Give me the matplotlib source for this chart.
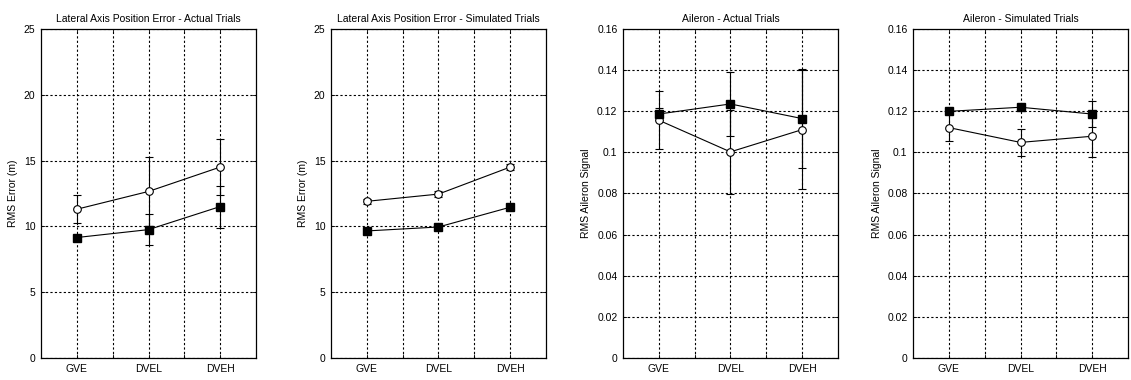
import numpy as np
import matplotlib.pyplot as plt
from matplotlib.ticker import FormatStrFormatter

plt.rcParams['font.family'] = ['Liberation Sans', 'DejaVu Sans']

conditions = ["GVE", "DVEL", "DVEH"]

titles = ["Lateral Axis Position Error - Actual Trials",
          "Lateral Axis Position Error - Simulated Trials",
          "Aileron - Actual Trials",
          "Aileron - Simulated Trials"]
ylabels = ["RMS Error (m)", "RMS Error (m)", "RMS Aileron Signal", "RMS Aileron Signal"]

# open circle series
circle_mean = [[11.3, 12.65, 14.5],
               [11.9, 12.45, 14.5],
               [0.1156, 0.1002, 0.111],
               [0.112, 0.1048, 0.1078]]
circle_err = [[1.05, 2.65, 2.1],
              [0.2, 0.2, 0.2],
              [0.014, 0.0205, 0.029],
              [0.0065, 0.0065, 0.0101]]

# filled square series
square_mean = [[9.15, 9.75, 11.5],
               [9.65, 9.95, 11.45],
               [0.1186, 0.1235, 0.1164],
               [0.1199, 0.1219, 0.1186]]
square_err = [[0.15, 1.15, 1.6],
              [0.15, 0.15, 0.15],
              [0.003, 0.0155, 0.024],
              [0.001, 0.001, 0.0065]]

ylims = [(0, 25), (0, 25), (0, 0.16), (0, 0.16)]
yticks = [np.arange(0, 26, 5), np.arange(0, 26, 5),
          np.arange(0, 0.161, 0.02), np.arange(0, 0.161, 0.02)]

lefts = [0.0363, 0.2927, 0.5508, 0.8073]

fig = plt.figure(figsize=(11.31, 3.8), dpi=100)
x = np.arange(1, 4)

for i in range(4):
    ax = fig.add_axes([lefts[i], 0.058, 0.190, 0.866])
    ax.errorbar(x, circle_mean[i], yerr=circle_err[i], color="black", lw=0.8,
                marker="o", ms=5.5, mfc="white", mec="black", mew=0.8,
                capsize=3, elinewidth=0.8, capthick=0.8)
    ax.errorbar(x, square_mean[i], yerr=square_err[i], color="black", lw=0.8,
                marker="s", ms=5.5, mfc="black", mec="black",
                capsize=3, elinewidth=0.8, capthick=0.8)
    ax.set_xlim(0.5, 3.5)
    ax.set_ylim(*ylims[i])
    ax.set_xticks([1, 1.5, 2, 2.5, 3])
    ax.set_xticklabels(["GVE", "", "DVEL", "", "DVEH"])
    ax.set_yticks(yticks[i])
    ax.yaxis.set_major_formatter(FormatStrFormatter("%g"))
    ax.grid(True, color="black", linestyle=(0, (2, 2)), linewidth=0.8)
    ax.tick_params(direction="in", length=3, labelsize=7.5, width=0.6,
                   top=True, right=True, pad=4)
    for s in ax.spines.values():
        s.set_linewidth(0.9)
    ax.set_title(titles[i], fontsize=7.5, pad=5)
    ax.set_ylabel(ylabels[i], fontsize=7.5)

plt.savefig("out.png", dpi=100)
